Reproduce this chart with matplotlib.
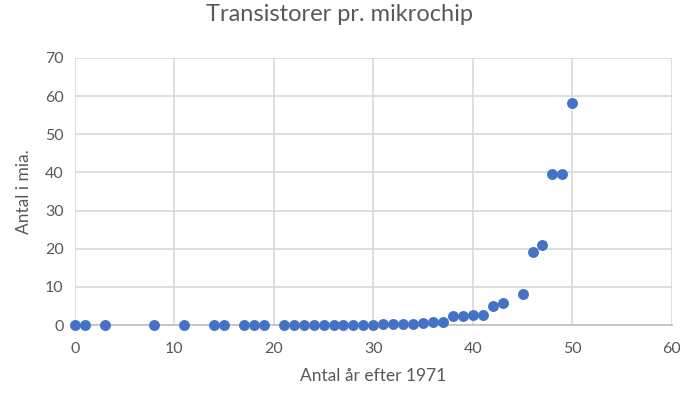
import matplotlib
matplotlib.use("Agg")
import matplotlib.pyplot as plt

# years after 1971 and transistor count (billions)
years = [0, 1, 3, 8, 11, 14, 15, 17, 18, 19, 21, 22, 23, 24, 25, 26, 27, 28, 29,
         30, 31, 32, 33, 34, 35, 36, 37, 38, 39, 40, 41, 42, 43, 45, 46, 47, 48, 49, 50]
transistors = [0.0, 0.0, 0.0, 0.0, 0.0, 0.0, 0.0, 0.0, 0.0, 0.0, 0.0, 0.0, 0.0, 0.0,
               0.0, 0.0, 0.0, 0.0, 0.0, 0.05, 0.3, 0.35, 0.35, 0.35, 0.6, 0.8, 0.8,
               2.3, 2.3, 2.6, 2.6, 5.0, 5.8, 8.1, 19.2, 21.1, 39.6, 39.6, 58.1]

xticks = [0, 10, 20, 30, 40, 50, 60]
yticks = [0, 10, 20, 30, 40, 50, 60, 70]

plt.rcParams['font.family'] = ['Lato', 'DejaVu Sans']
grey = "#595959"

fig = plt.figure(figsize=(6.8, 3.98), dpi=100)
ax = fig.add_axes([0.110, 0.1834, 0.878, 0.671])

ax.scatter(years, transistors, s=62, color="#4472C4", zorder=3, clip_on=False,
           linewidths=0)

ax.set_xlim(0, 60)
ax.set_ylim(0, 70)
ax.set_xticks(xticks)
ax.set_yticks(yticks)
ax.grid(True, color="#d9d9d9", linewidth=1.2)
ax.set_axisbelow(True)
for s in ["top", "right", "left"]:
    ax.spines[s].set_visible(False)
ax.spines["bottom"].set_color("#bfbfbf")
ax.spines["bottom"].set_linewidth(1.2)
ax.tick_params(length=0, labelsize=11.5, colors=grey)
ax.tick_params(axis="x", pad=12)
ax.tick_params(axis="y", pad=8)

ax.set_xlabel("Antal år efter 1971", fontsize=12.5, color=grey, labelpad=9)
ax.set_ylabel("Antal i mia.", fontsize=12.5, color=grey, labelpad=9)
fig.suptitle("Transistorer pr. mikrochip", fontsize=17, color=grey, y=0.99)

fig.savefig("out.png", dpi=100)
